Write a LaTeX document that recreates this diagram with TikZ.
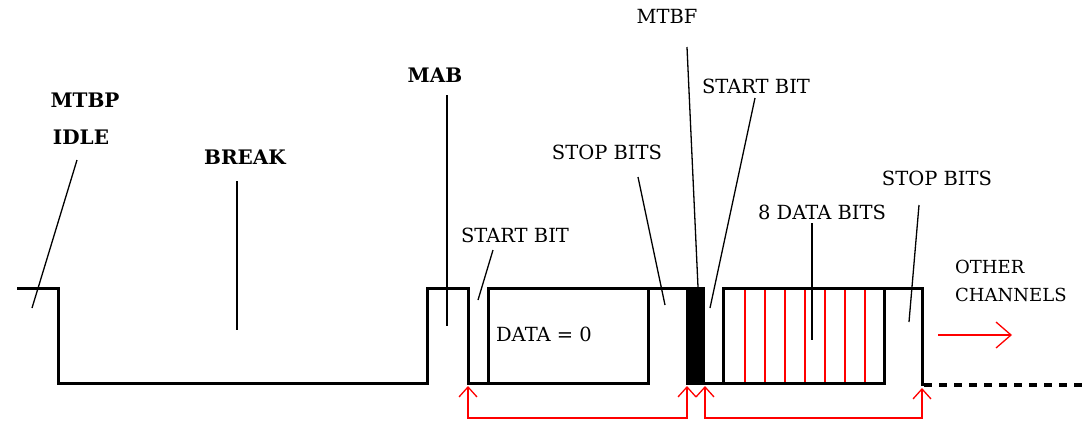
\documentclass[tikz,border=0pt]{standalone}
\usepackage{fontspec}
\setmainfont{DejaVu Serif}
\usepackage{tikz}
\usetikzlibrary{arrows.meta}

\begin{document}
\begin{tikzpicture}[x=1pt, y=-1pt,
  sig/.style={draw=black, line width=3pt},
  leader/.style={draw=black, line width=1.3pt},
  bitline/.style={draw=red, line width=1.3pt},
  redarrow/.style={draw=red, line width=1.3pt, {Straight Barb[length=10pt,width=18pt]}-{Straight Barb[length=10pt,width=18pt]}},
  label/.style={inner sep=0pt, font=\fontsize{19.5}{21}\selectfont},
  blabel/.style={inner sep=0pt, font=\fontsize{20}{22}\selectfont\bfseries}]

  \useasboundingbox (0,0) rectangle (1085,421);

  % labels
  \node [blabel] (mtbp) at (85,100) {MTBP};
  \node [blabel] (idle) at (81,137) {IDLE};
  \node [blabel] (brk) at (245,157) {BREAK};
  \node [blabel] (mab) at (435,75) {MAB};
  \node [label] (mtbf) at (667,16) {MTBF};
  \node [label] (startB) at (756,86) {START BIT};
  \node [label] (stopA) at (607,152) {STOP BITS};
  \node [label] (startA) at (515,235) {START BIT};
  \node [label] (data0) at (544,334) {DATA = 0};
  \node [label] (databits) at (822,212) {8 DATA BITS};
  \node [label] (stopB) at (937,178) {STOP BITS};
  \node [label, align=left, anchor=north west, font=\fontsize{18}{27.5}\selectfont] (other) at (955,260) {OTHER\\CHANNELS};

  % leader ends
  \coordinate (idleA) at (77,160);   \coordinate (idleB) at (32,308);
  \coordinate (brkA) at (237,181);   \coordinate (brkB) at (237,330);
  \coordinate (mabA) at (447,95);    \coordinate (mabB) at (447,326);
  \coordinate (mtbfA) at (687,47);   \coordinate (mtbfB) at (698,287);
  \coordinate (startBA) at (755,98); \coordinate (startBB) at (710,308);
  \coordinate (stopAA) at (638,177); \coordinate (stopAB) at (665,305);
  \coordinate (startAA) at (493,250); \coordinate (startAB) at (478,300);
  \coordinate (dataA) at (812,223);  \coordinate (dataB) at (812,340);
  \coordinate (stopBA) at (919,205); \coordinate (stopBB) at (909,322);

  \path [leader] (idleA) -- (idleB);
  \path [leader] (brkA) -- (brkB);
  \path [leader] (mabA) -- (mabB);
  \path [leader] (mtbfA) -- (mtbfB);
  \path [leader] (startBA) -- (startBB);
  \path [leader] (stopAA) -- (stopAB);
  \path [leader] (startAA) -- (startAB);
  \path [leader] (dataA) -- (dataB);
  \path [leader] (stopBA) -- (stopBB);

  % signal
  \foreach \x in {745,765,...,865}
    \path [bitline] (\x,289) -- (\x,383);
  \path [sig] (17,288) -| (58,383) -| (427,288) -| (468,383) -| (648,288);
  \path [sig] (488,383) |- (686,288);
  \fill (686,286.5) rectangle (705,384.5);
  \path [sig] (705,383) -| (884,288);
  \path [sig] (723,383) |- (922,288) -- (922,386);
  \path [sig, line width=4pt, dash pattern=on 8pt off 7pt] (924,385) -- (1085,385);

  % timing arrows
  \path [redarrow] (468,386) -- (468,418) -| (687,386);
  \path [redarrow] (705,386) -- (705,418) -| (922,388);
  \path [draw=red, line width=1.3pt, -{Straight Barb[length=15pt,width=26pt]}] (938,335) -- (1012,335);
\end{tikzpicture}
\end{document}
